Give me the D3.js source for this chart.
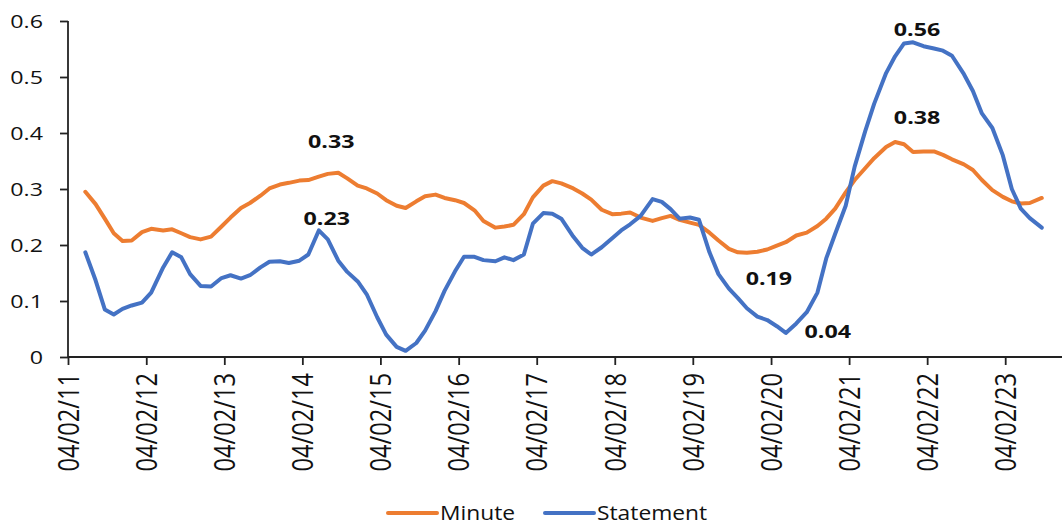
<!DOCTYPE html>
<html>
<head>
<meta charset="utf-8">
<script src="https://cdn.jsdelivr.net/npm/d3@7"></script>
<style>
  html, body { margin: 0; padding: 0; background: #fff; }
  svg { display: block; }
  text { font-family: "Open Sans", sans-serif; fill: #111; }
</style>
</head>
<body>
<svg id="chart" width="1062" height="525"></svg>
<script>
// FOMC meeting dates (x values)
const dates = [
  "2011-06-22","2011-08-09","2011-09-21","2011-11-02","2011-12-13",
  "2012-01-25","2012-03-13","2012-04-25","2012-06-20","2012-08-01","2012-09-13","2012-10-24","2012-12-12",
  "2013-01-30","2013-03-20","2013-05-01","2013-06-19","2013-07-31","2013-09-18","2013-10-30","2013-12-18",
  "2014-01-29","2014-03-19","2014-04-30","2014-06-18","2014-07-30","2014-09-17","2014-10-29","2014-12-17",
  "2015-01-28","2015-03-18","2015-04-29","2015-06-17","2015-07-29","2015-09-17","2015-10-28","2015-12-16",
  "2016-01-27","2016-03-16","2016-04-27","2016-06-15","2016-07-27","2016-09-21","2016-11-02","2016-12-14",
  "2017-02-01","2017-03-15","2017-05-03","2017-06-14","2017-07-26","2017-09-20","2017-11-01","2017-12-13",
  "2018-01-31","2018-03-21","2018-05-02","2018-06-13","2018-08-01","2018-09-26","2018-11-08","2018-12-19",
  "2019-01-30","2019-03-20","2019-05-01","2019-06-19","2019-07-31","2019-09-18","2019-10-30","2019-12-11",
  "2020-01-29","2020-03-15","2020-04-29","2020-06-10","2020-07-29","2020-09-16","2020-11-05","2020-12-16",
  "2021-01-27","2021-03-17","2021-04-28","2021-06-16","2021-07-28","2021-09-22","2021-11-03","2021-12-15",
  "2022-01-26","2022-03-16","2022-05-04","2022-06-15","2022-07-27","2022-09-21","2022-11-02","2022-12-14",
  "2023-02-01","2023-03-22","2023-05-03","2023-06-14","2023-07-26","2023-09-20"
];

const minuteValues = [
  .295, .273, .247, .221, .207,
  .208, .223, .229, .226, .228, .221, .214, .210,
  .215, .233, .249, .266, .275, .288, .301, .308,
  .311, .315, .316, .322, .327, .329, .319, .306,
  .301, .292, .280, .270, .266, .278, .287, .290,
  .284, .280, .275, .262, .243, .231, .233, .236,
  .255, .285, .306, .314, .310, .301, .292, .281,
  .263, .255, .256, .258, .249, .243, .248, .252,
  .245, .240, .236, .222, .208, .193, .187, .186,
  .188, .192, .199, .205, .217, .222, .234, .247,
  .265, .294, .316, .337, .355, .375, .384, .380,
  .366, .367, .367, .361, .353, .344, .334, .316,
  .298, .286, .278, .274, .275, .284
];

const statementValues = [
  .187, .137, .085, .076, .086,
  .092, .097, .115, .160, .187, .178, .148, .127,
  .126, .141, .146, .140, .146, .160, .170, .171,
  .168, .172, .183, .226, .210, .172, .152, .135,
  .112, .071, .040, .018, .011, .025, .047, .082,
  .118, .153, .179, .179, .173, .171, .178, .173,
  .183, .238, .257, .256, .247, .215, .195, .183,
  .196, .212, .226, .237, .252, .282, .277, .264,
  .247, .249, .245, .187, .148, .122, .105, .087,
  .072, .066, .055, .043, .060, .080, .115, .176,
  .220, .270, .340, .403, .452, .507, .537, .560,
  .562, .555, .551, .547, .538, .505, .475, .435,
  .409, .360, .300, .265, .248, .231
];

const seriesNames = ["Minute", "Statement"];
const tickLabels = ["04/02/11","04/02/12","04/02/13","04/02/14","04/02/15","04/02/16","04/02/17",
                    "04/02/18","04/02/19","04/02/20","04/02/21","04/02/22","04/02/23"];
const yTicks = [0, 0.1, 0.2, 0.3, 0.4, 0.5, 0.6];

// ---- drawing ----
const W = 1062, H = 525;
const plotLeft = 68, plotTop = 21, plotBottom = 357;
const colors = { Minute: "#ED7D31", Statement: "#4472C4" };
const SX = 1.25;   // horizontal text widening

const parseISO = d3.timeParse("%Y-%m-%d");
const parseTick = d3.timeParse("%m/%d/%y");
const tickDates = tickLabels.map(parseTick);
const fmtTick = d3.timeFormat("%m/%d/%y");

const x = d3.scaleTime()
  .domain([tickDates[0], tickDates[tickDates.length - 1]])
  .range([plotLeft, 1005.2]);
const y = d3.scaleLinear().domain([0, 0.6]).range([plotBottom, plotTop]);

const svg = d3.select("#chart");

const series = [
  { name: "Minute", values: dates.map((d, i) => ({ date: parseISO(d), v: minuteValues[i] })) },
  { name: "Statement", values: dates.map((d, i) => ({ date: parseISO(d), v: statementValues[i] })) }
];

// y axis
const yAxis = svg.append("g").attr("transform", `translate(${plotLeft},0)`)
  .call(d3.axisLeft(y).tickValues(yTicks).tickSize(8).tickFormat(() => ""));
yAxis.selectAll("path, line").attr("stroke", "#222").attr("stroke-width", 1.8);
yAxis.select(".domain").attr("d", `M0,${plotBottom}V${plotTop}`);

svg.append("g").selectAll("text").data(yTicks).join("text")
  .attr("transform", d => `translate(43,${y(d)}) scale(${SX},1)`)
  .attr("text-anchor", "end")
  .attr("dy", "0.36em")
  .style("font-size", "18.6px")
  .text(d => String(+d.toFixed(1)));

// x axis
const xAxis = svg.append("g").attr("transform", `translate(0,${plotBottom})`)
  .call(d3.axisBottom(x).tickValues(tickDates).tickSize(8).tickFormat(() => ""));
xAxis.selectAll("path, line").attr("stroke", "#222").attr("stroke-width", 1.8);
xAxis.select(".domain").attr("d", `M${plotLeft},0H${W}`);

svg.append("g").selectAll("text").data(tickDates).join("text")
  .attr("transform", d => `translate(${x(d)},373) scale(1.26,1) rotate(-90)`)
  .attr("text-anchor", "end")
  .attr("dy", "0.36em")
  .style("font-size", "23.7px")
  .text(d => fmtTick(d));

// lines
const line = d3.line().x(d => x(d.date)).y(d => y(d.v));
svg.append("g").selectAll("path").data(series).join("path")
  .attr("d", d => line(d.values))
  .attr("fill", "none")
  .attr("stroke", d => colors[d.name])
  .attr("stroke-width", 4)
  .attr("stroke-linejoin", "round")
  .attr("stroke-linecap", "round");

// value call-outs on peaks and troughs
const notes = [
  { series: "Minute",    kind: "max", from: "2014-01-01", to: "2015-01-01", dx: -7, dy: -25 },
  { series: "Statement", kind: "max", from: "2014-01-01", to: "2015-01-01", dx: 8,  dy: -5 },
  { series: "Statement", kind: "max", from: "2021-01-01", to: "2023-01-01", dx: 4,  dy: -6 },
  { series: "Minute",    kind: "max", from: "2021-01-01", to: "2023-01-01", dx: 22, dy: -18 },
  { series: "Minute",    kind: "min", from: "2019-06-01", to: "2021-01-01", dx: 22, dy: 32 },
  { series: "Statement", kind: "min", from: "2019-06-01", to: "2021-01-01", dx: 42, dy: 5 }
];
const noteData = notes.map(n => {
  const s = series.find(s => s.name === n.series).values
    .filter(p => p.date >= parseISO(n.from) && p.date < parseISO(n.to));
  const p = n.kind === "max" ? s[d3.maxIndex(s, p => p.v)] : s[d3.minIndex(s, p => p.v)];
  return { p, n };
});
svg.append("g").selectAll("text").data(noteData).join("text")
  .attr("transform", d => `translate(${x(d.p.date) + d.n.dx},${y(d.p.v) + d.n.dy}) scale(${SX},1)`)
  .attr("text-anchor", "middle")
  .style("font-size", "18.6px")
  .style("font-weight", "700")
  .text(d => d3.format(".2f")(d.p.v));

// legend
const legend = svg.append("g");
const legendItems = [
  { name: seriesNames[0], x0: 388, x1: 437, tx: 440 },
  { name: seriesNames[1], x0: 545, x1: 594, tx: 597 }
];
legend.selectAll("line").data(legendItems).join("line")
  .attr("x1", d => d.x0).attr("x2", d => d.x1)
  .attr("y1", 513).attr("y2", 513)
  .attr("stroke", d => colors[d.name])
  .attr("stroke-width", 4)
  .attr("stroke-linecap", "round");
legend.selectAll("text").data(legendItems).join("text")
  .attr("transform", d => `translate(${d.tx},520) scale(1.14,1)`)
  .style("font-size", "20px")
  .text(d => d.name);
</script>
</body>
</html>
